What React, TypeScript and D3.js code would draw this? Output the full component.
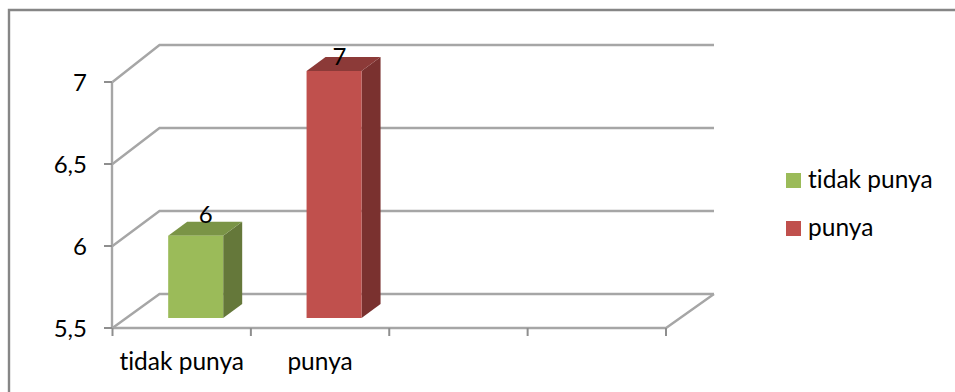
import React from "react";
import * as d3 from "d3";

// Data
const categories = ["tidak punya", "punya", "", ""];
const seriesNames = ["tidak punya", "punya"];
const seriesValues = [6, 7];
const valueTicks = [5.5, 6, 6.5, 7];
const tickLabels = ["5,5", "6", "6,5", "7"];
const seriesColors = ["#9BBB59", "#C0504D"];
const topColors = ["#7A9446", "#8C3A38"];
const sideColors = ["#65783A", "#7A312F"];

const W = 955;
const H = 392;
const FONT = "Lato, Carlito, Calibri, sans-serif";
const GRID = "#A6A6A6";
const AXIS = "#8E8E8E";

// Front plane, back wall and column scales share one domain.
const yFront = d3.scaleLinear().domain([5.5, 7]).range([328, 82]);
const yBack = d3.scaleLinear().domain([5.5, 7]).range([294, 45]);
const yBar = d3.scaleLinear().domain([5.5, 7]).range([318, 71]);
const x = d3.scaleBand<number>().domain([0, 1, 2, 3]).range([112.5, 666]);

const WALL_DX = 47;
const RIGHT_END = 714;
const BAR_WIDTH = 55;
const BAR_DEPTH = { dx: 19, dy: -14 };
const BAR_OFFSET = 14;
// Data labels sit at slightly different spots above each column.
const LABEL_OFFSETS = [
  { dx: 37.5, dy: -13 },
  { dx: 33, dy: -6 },
];

const poly = (pts: [number, number][]) => pts.map((p) => p.join(",")).join(" ");

export default function App() {
  const [x0Axis, x1Axis] = x.range();
  const baseY = yFront(5.5);
  return (
    <svg
      width={W}
      height={H}
      viewBox={`0 0 ${W} ${H}`}
      style={{ position: "absolute", left: 0, top: 0, background: "#fff", fontVariantLigatures: "none" }}
      fontFamily={FONT}
    >
      {/* Frame: only the top and left edges are visible */}
      <path d={`M9,${H} V10 H${W}`} fill="none" stroke="#868686" strokeWidth={2.4} />

      {/* Gridlines on the back wall, with diagonals along the side wall */}
      {valueTicks.map((t) => (
        <polyline
          key={t}
          points={poly([
            [x0Axis, yFront(t)],
            [x0Axis + WALL_DX, yBack(t)],
            [RIGHT_END, yBack(t)],
          ])}
          fill="none"
          stroke={GRID}
          strokeWidth={2.4}
        />
      ))}
      {/* Front edge of the floor and its right diagonal */}
      <polyline
        points={poly([
          [x0Axis, baseY],
          [x1Axis, baseY],
          [RIGHT_END, yBack(5.5)],
        ])}
        fill="none"
        stroke={GRID}
        strokeWidth={2.4}
      />

      {/* Value axis */}
      <line x1={112} x2={112} y1={yFront(7)} y2={baseY} stroke={GRID} strokeWidth={2.4} />
      {valueTicks.map((t, i) => (
        <g key={t}>
          <line x1={104} x2={112} y1={yFront(t)} y2={yFront(t)} stroke={AXIS} strokeWidth={2} />
          <text x={87} y={yFront(t) + 9} fontSize={24} textAnchor="end" fill="#000">
            {tickLabels[i]}
          </text>
        </g>
      ))}

      {/* Category axis ticks and labels */}
      {[...x.domain(), 4].map((i) => {
        const px = i === 4 ? x1Axis : (x(i) as number);
        return <line key={i} x1={px} x2={px} y1={baseY} y2={baseY + 8} stroke={AXIS} strokeWidth={2} />;
      })}
      {categories.map((c, i) =>
        c ? (
          <text key={i} x={(x(i) as number) + x.bandwidth() / 2} y={370} fontSize={24.5} textAnchor="middle" fill="#000">
            {c}
          </text>
        ) : null
      )}

      {/* 3D columns */}
      {seriesValues.map((v, i) => {
        const x0 = (x(i) as number) + x.bandwidth() / 2 - BAR_WIDTH / 2 + BAR_OFFSET;
        const x1 = x0 + BAR_WIDTH;
        const top = yBar(v);
        const bot = yBar(5.5);
        const { dx, dy } = BAR_DEPTH;
        return (
          <g key={i}>
            <polygon
              points={poly([[x1, top], [x1 + dx, top + dy], [x1 + dx, bot + dy], [x1, bot]])}
              fill={sideColors[i]}
            />
            <polygon
              points={poly([[x0, top], [x0 + dx, top + dy], [x1 + dx, top + dy], [x1, top]])}
              fill={topColors[i]}
            />
            <rect x={x0} y={top} width={BAR_WIDTH} height={bot - top} fill={seriesColors[i]} />
            <text
              x={x0 + LABEL_OFFSETS[i].dx}
              y={top + LABEL_OFFSETS[i].dy}
              fontSize={24}
              textAnchor="middle"
              fill="#000"
            >
              {v}
            </text>
          </g>
        );
      })}

      {/* Legend */}
      {seriesNames.map((n, i) => {
        const ly = 173 + i * 48;
        return (
          <g key={n}>
            <rect x={786} y={ly} width={15} height={15} fill={seriesColors[i]} />
            <text x={808} y={ly + 14.5} fontSize={24.5} fill="#000">
              {n}
            </text>
          </g>
        );
      })}
    </svg>
  );
}
